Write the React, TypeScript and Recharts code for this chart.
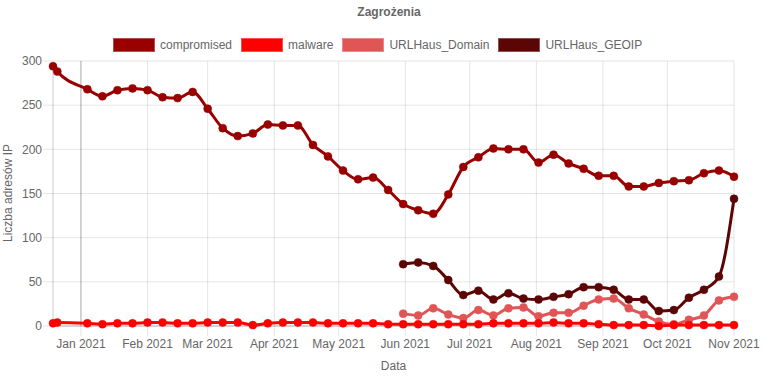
import React from "react";
import {
  LineChart,
  Line,
  XAxis,
  YAxis,
  CartesianGrid,
  ReferenceLine,
} from "recharts";

const dates = [
  "2020-12-19", "2020-12-21", "2021-01-04", "2021-01-11", "2021-01-18", "2021-01-25",
  "2021-02-01", "2021-02-08", "2021-02-15", "2021-02-22", "2021-03-01", "2021-03-08",
  "2021-03-15", "2021-03-22", "2021-03-29", "2021-04-05", "2021-04-12", "2021-04-19",
  "2021-04-26", "2021-05-03", "2021-05-10", "2021-05-17", "2021-05-24", "2021-05-31",
  "2021-06-07", "2021-06-14", "2021-06-21", "2021-06-28", "2021-07-05", "2021-07-12",
  "2021-07-19", "2021-07-26", "2021-08-02", "2021-08-09", "2021-08-16", "2021-08-23",
  "2021-08-30", "2021-09-06", "2021-09-13", "2021-09-20", "2021-09-27", "2021-10-04",
  "2021-10-11", "2021-10-18", "2021-10-25", "2021-11-01",
];

const compromised = [
  294, 288, 268, 260, 267, 269, 267, 259, 258, 265, 246, 224, 215, 218, 228, 227, 227,
  205, 192, 176, 166, 168, 154, 138, 131, 127, 149, 180, 191, 201, 200, 200, 185, 194,
  184, 178, 170, 170, 158, 158, 162, 164, 165, 173, 176, 169,
];

const malware = [
  3, 4, 3, 2, 3, 3, 4, 4, 3, 3, 4, 4, 4, 1, 3, 4, 4, 4, 3, 3, 3, 3, 2, 2, 2, 2, 2, 2, 2,
  3, 3, 3, 3, 4, 3, 3, 2, 1, 1, 1, 0, 1, 1, 1, 1, 1,
];

// URLHaus series start on 2021-05-31
const urlhausStart = "2021-05-31";
const urlhausDomain = [
  14, 12, 20, 13, 9, 18, 12, 20, 21, 11, 15, 15, 23, 30, 31, 20, 13, 5, 2, 7, 12, 29, 33,
];
const urlhausGeoip = [
  70, 72, 68, 52, 35, 40, 30, 37, 31, 30, 33, 36, 44, 44, 41, 30, 30, 17, 18, 32, 41, 56,
  144,
];

const monthTicks = [
  "2021-01-01", "2021-02-01", "2021-03-01", "2021-04-01", "2021-05-01", "2021-06-01",
  "2021-07-01", "2021-08-01", "2021-09-01", "2021-10-01", "2021-11-01",
];
const monthNames = ["Jan", "Feb", "Mar", "Apr", "May", "Jun", "Jul", "Aug", "Sep", "Oct", "Nov", "Dec"];
const yTicks = [0, 50, 100, 150, 200, 250, 300];

const series = [
  { key: "compromised", color: "#990000" },
  { key: "malware", color: "#ff0000" },
  { key: "URLHaus_Domain", color: "#e05555" },
  { key: "URLHaus_GEOIP", color: "#5c0505" },
];

const ts = (d: string) => new Date(d).getTime();
const startIdx = dates.indexOf(urlhausStart);

const data = dates.map((d, i) => ({
  t: ts(d),
  compromised: compromised[i],
  malware: malware[i],
  URLHaus_Domain: i >= startIdx ? urlhausDomain[i - startIdx] : null,
  URLHaus_GEOIP: i >= startIdx ? urlhausGeoip[i - startIdx] : null,
}));

const FONT = '"Liberation Sans", Arial, Helvetica, sans-serif';
const GRID = "rgba(0,0,0,0.1)";
const tickStyle = { fill: "#666", fontSize: 12, fontFamily: FONT };

const fmtMonth = (v: number) => {
  const d = new Date(v);
  return `${monthNames[d.getUTCMonth()]} ${d.getUTCFullYear()}`;
};

export default function App() {
  // drawn bottom-up: first series ends on top, like the original
  const drawOrder = [...series].reverse();

  return (
    <div style={{ position: "absolute", left: 0, top: 0, width: 778, height: 376, background: "#fff", fontFamily: FONT }}>
      <div style={{ position: "absolute", top: 5, left: 0, width: 778, textAlign: "center", fontSize: 12, fontWeight: "bold", color: "#666" }}>
        Zagrożenia
      </div>

      <div style={{ position: "absolute", top: 38, left: 113, display: "flex", alignItems: "center", fontSize: 12, color: "#666" }}>
        {series.map((s) => (
          <div key={s.key} style={{ display: "flex", alignItems: "center", marginRight: 9 }}>
            <span style={{ display: "inline-block", width: 42, height: 14, background: s.color, boxSizing: "border-box", border: "1px solid rgba(255,255,255,0.3)", marginRight: 5 }} />
            <span style={{ lineHeight: "14px" }}>{s.key}</span>
          </div>
        ))}
      </div>

      <div style={{ position: "absolute", left: 8, top: 193, transform: "translate(-50%, -50%) rotate(-90deg)", fontSize: 12, color: "#666", whiteSpace: "nowrap" }}>
        Liczba adresów IP
      </div>
      <div style={{ position: "absolute", left: 0, width: 787, top: 359, textAlign: "center", fontSize: 12, color: "#666" }}>
        Data
      </div>

      <div style={{ position: "absolute", left: 0, top: 0 }}>
        <LineChart width={778} height={376} data={data} margin={{ top: 61, right: 44, left: 0, bottom: 0 }}>
          <CartesianGrid stroke={GRID} />
          <XAxis
            dataKey="t"
            type="number"
            domain={[ts(dates[0]), ts(dates[dates.length - 1])]}
            ticks={monthTicks.map(ts)}
            interval={0}
            tickFormatter={fmtMonth}
            height={50}
            axisLine={false}
            tickLine={{ stroke: GRID }}
            tickSize={10}
            tickMargin={3}
            tick={tickStyle}
          />
          <YAxis
            domain={[0, 300]}
            ticks={yTicks}
            interval={0}
            width={53}
            axisLine={{ stroke: GRID }}
            tickLine={{ stroke: GRID }}
            tickSize={10}
            tickMargin={1}
            tick={tickStyle}
          />
          <ReferenceLine y={0} stroke="rgba(0,0,0,0.25)" />
          <ReferenceLine x={ts("2021-01-01")} stroke="rgba(0,0,0,0.25)" />
          {drawOrder.map((s) => (
            <Line
              key={s.key}
              dataKey={s.key}
              type="monotone"
              stroke={s.color}
              strokeWidth={3}
              dot={{ r: 4, fill: s.color, stroke: s.color, strokeOpacity: 0.5, strokeWidth: 1 }}
              activeDot={false}
              connectNulls={false}
              isAnimationActive={false}
            />
          ))}
        </LineChart>
      </div>
    </div>
  );
}
